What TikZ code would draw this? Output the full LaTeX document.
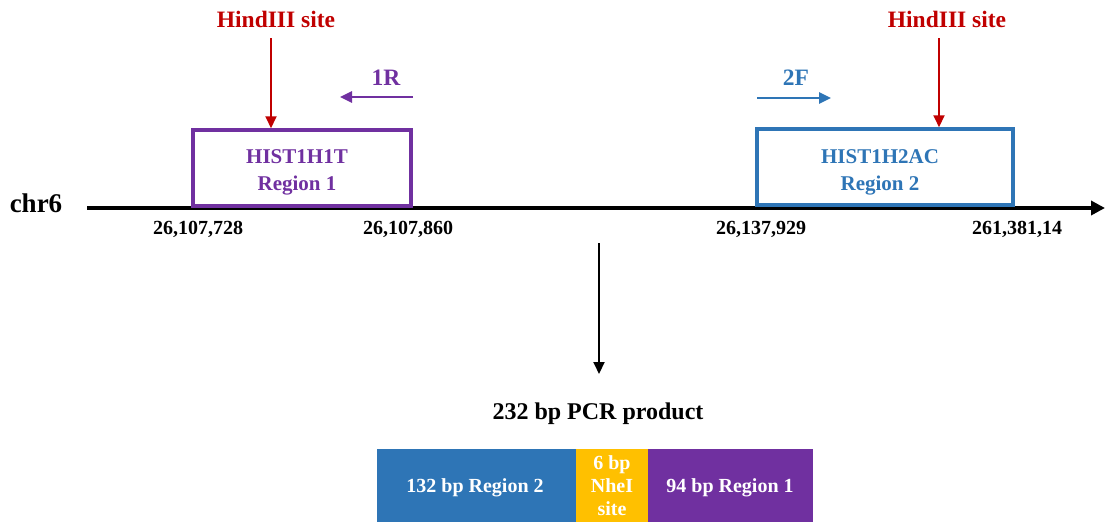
\documentclass[tikz,border=0pt]{standalone}
\usepackage{fontspec}
\setmainfont{Liberation Serif}
\usetikzlibrary{arrows.meta}
\definecolor{hred}{RGB}{192,0,0}
\definecolor{hpurple}{RGB}{112,48,160}
\definecolor{hblue}{RGB}{46,117,182}
\definecolor{hyellow}{RGB}{255,192,0}
\tikzset{
  lbl/.style={font=\bfseries\fontsize{23.5}{26}\selectfont, inner sep=0pt},
  num/.style={font=\bfseries\fontsize{20}{23}\selectfont, inner sep=0pt},
  regbox/.style={draw, line width=3.5pt, minimum height=76pt, inner sep=0pt},
  boxtext/.style={inner sep=0pt, align=center, font=\bfseries\fontsize{21}{27}\selectfont},
  seg/.style={inner sep=0pt, minimum height=73pt},
  segtext/.style={inner sep=0pt, text=white, align=center,
    font=\bfseries\fontsize{20}{23}\selectfont},
  tip/.style={-{Triangle[length=12pt,width=11pt]}},
}
\begin{document}
\begin{tikzpicture}[x=1pt,y=-1pt]
\useasboundingbox (0,0) rectangle (1107,522);
% axis
\coordinate (axL) at (87,208);
\coordinate (axR) at (1105,208);
\draw[line width=4pt, -{Triangle[length=14pt,width=14pt]}] (axL) -- (axR);
\node[font=\bfseries\fontsize{27}{30}\selectfont, inner sep=0pt] (chr) at (36,203) {chr6};
% region boxes
\node[regbox, draw=hpurple, minimum width=218pt] (box1) at (302,168) {};
\node[boxtext, text=hpurple] (t1) at (297,172) {HIST1H1T\\Region 1};
\node[regbox, draw=hblue, minimum width=256pt] (box2) at (885,167) {};
\node[boxtext, text=hblue] (t2) at (880,172) {HIST1H2AC\\Region 2};
% HindIII sites
\node[lbl, text=hred] (h1) at (276,19) {HindIII site};
\node[lbl, text=hred] (h2) at (947,19) {HindIII site};
\coordinate (h1s) at (271,38);
\coordinate (h2s) at (939,38);
\draw[hred, line width=2pt, tip] (h1s) -- (h1s |- box1.north);
\draw[hred, line width=2pt, tip] (h2s) -- (h2s |- box2.north);
% primers
\node[lbl, text=hpurple] (p1) at (386,78) {1R};
\coordinate (p1a) at (413,97);
\coordinate (p1b) at (340,97);
\draw[hpurple, line width=2.5pt, tip] (p1a) -- (p1b);
\node[lbl, text=hblue] (p2) at (796,78) {2F};
\coordinate (p2a) at (757,98);
\coordinate (p2b) at (831,98);
\draw[hblue, line width=2.5pt, tip] (p2a) -- (p2b);
% coordinates
\node[num] (n1) at (198,229) {26,107,728};
\node[num] (n2) at (408,229) {26,107,860};
\node[num] (n3) at (761,229) {26,137,929};
\node[num] (n4) at (1017,229) {261,381,14};
% down arrow
\coordinate (dA) at (599,243);
\coordinate (dB) at (599,374);
\draw[line width=2pt, tip] (dA) -- (dB);
% PCR product
\node[font=\bfseries\fontsize{24}{27}\selectfont, inner sep=0pt] (title) at (598,414) {232 bp PCR product};
\node[seg, fill=hblue, minimum width=199pt] (s1) at (476.5,485.5) {};
\node[seg, fill=hyellow, minimum width=72pt] (s2) at (612,485.5) {};
\node[seg, fill=hpurple, minimum width=165pt] (s3) at (730.5,485.5) {};
\node[segtext] (l1) at (475,488) {132 bp Region 2};
\node[segtext] (l2) at (612,486) {6 bp\\NheI\\site};
\node[segtext] (l3) at (730,488) {94 bp Region 1};
\end{tikzpicture}
\end{document}
